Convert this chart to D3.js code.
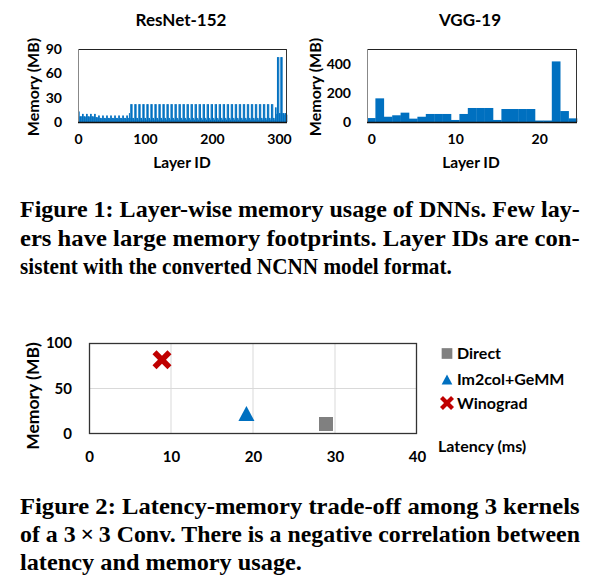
<!DOCTYPE html>
<html><head><meta charset="utf-8">
<script src="https://cdn.jsdelivr.net/npm/d3@7"></script>
<style>
body{margin:0;background:#fff}
svg text{font-family:Lato,"Open Sans",sans-serif;font-weight:bold;fill:#000}
svg text.cap{font-family:"Liberation Serif","DejaVu Serif",serif;font-weight:bold}
</style>
</head><body>
<svg id="c" width="597" height="577"></svg>
<script>
// ---------- DATA ----------
// ResNet-152: memory (MB) per NCNN layer ID (0..311)
const resnetMemory = [
  13,13,7,7,7,7,
  10,10,7,7,7,6, 10,10,7,7,7,6, 10,10,7,7,7,6,
  10,10,6,6,6,5,
  8,8,5,5,5,4, 8,8,5,5,5,4, 8,8,5,5,5,4, 8,8,5,5,5,4,
  8,8,5,5,5,4, 8,8,5,5,5,4, 8,8,5,5,5,4, 8,8,5,5,11,5,
  22,22,22,5,5,3, 22,22,22,5,5,3, 22,22,22,5,5,3, 22,22,22,5,5,3, 22,22,22,5,5,3, 22,22,22,5,5,3,
  22,22,22,5,5,3, 22,22,22,5,5,3, 22,22,22,5,5,3, 22,22,22,5,5,3, 22,22,22,5,5,3, 22,22,22,5,5,3,
  22,22,22,5,5,3, 22,22,22,5,5,3, 22,22,22,5,5,3, 22,22,22,5,5,3, 22,22,22,5,5,3, 22,22,22,5,5,3,
  22,22,22,5,5,3, 22,22,22,5,5,3, 22,22,22,5,5,3, 22,22,22,5,5,3, 22,22,22,5,5,3, 22,22,22,5,5,3,
  22,22,22,5,5,3, 22,22,22,5,5,3, 22,22,22,5,5,3, 22,22,22,5,5,3, 22,22,22,5,5,3, 22,22,22,5,5,3,
  22,22,22,5,5,3, 22,22,22,5,5,3, 22,22,22,5,5,3, 22,22,22,5,5,3, 22,22,22,5,5,3, 22,22,22,5,5,3,
  18,18,10,80,80,80,11,11,80,80,80,11,11,9,11,11,9,9
];
const resnetLayerMax = 312;
const resnetTicksX = [0,100,200,300];
const resnetTicksY = [0,30,60,90];
const resnetMemMax = 90;

// VGG-19: memory (MB) per NCNN layer ID (0..24)
const vggMemory = [27,162,36,46,64,23,36,55,55,55,14,55,96,96,96,14,89,89,89,89,10,10,415,75,25];
const vggTicksX = [0,10,20];
const vggTicksY = [0,200,400];
const vggMemMax = 500;

// Figure 2: kernels
const kernelNames = ["Direct","Im2col+GeMM","Winograd"];
const kernelLatency = [28.9,19.2,8.9];
const kernelMemory = [11,22.5,81.5];
const kernelColors = ["#808080","#0070C0","#C00000"];
const scatterTicksX = [0,10,20,30,40];
const scatterTicksY = [0,50,100];

const titles = ["ResNet-152","VGG-19"];
const caption1 = [
  "Figure 1: Layer-wise memory usage of DNNs. Few lay-",
  "ers have large memory footprints. Layer IDs are con-",
  "sistent with the converted NCNN model format."
];
const caption2 = [
  "Figure 2: Latency-memory trade-off among 3 kernels",
  "of a 3\u2009\u00d7\u20093 Conv. There is a negative correlation between",
  "latency and memory usage."
];

// ---------- DRAW ----------
const svg = d3.select("#c");
svg.append("rect").attr("width",597).attr("height",577).attr("fill","#fff");
const BAR = "#0070C0";

function styleAxis(g, size){
  g.select(".domain").remove();
  g.selectAll("text").attr("font-size",size).attr("fill","#000")
    .style("font-family","Lato,sans-serif").style("font-weight","bold");
}

function panel(cfg){
  const g = svg.append("g");
  const x = cfg.x, y = cfg.y;
  const [x0,x1] = x.range(), [y0,y1] = y.range();
  g.selectAll("rect.bar").data(cfg.values).join("rect").attr("class","bar")
    .attr("x",(d,i)=>x(cfg.start(i)))
    .attr("width",(d,i)=>x(cfg.start(i)+1)-x(cfg.start(i))+cfg.overlap)
    .attr("y",d=>y(d)).attr("height",d=>y(0)-y(d))
    .attr("fill",BAR);
  // frame
  g.append("line").attr("x1",x0).attr("x2",x1).attr("y1",y1+0.5).attr("y2",y1+0.5).attr("stroke","#222");
  g.append("line").attr("x1",x1-0.5).attr("x2",x1-0.5).attr("y1",y1).attr("y2",y0).attr("stroke","#333");
  g.append("line").attr("x1",x0+0.5).attr("x2",x0+0.5).attr("y1",y1).attr("y2",y0).attr("stroke","#888");
  g.append("line").attr("x1",x0).attr("x2",x1).attr("y1",y0+0.5).attr("y2",y0+0.5).attr("stroke","#111").attr("stroke-width",1.5);
  const ax = g.append("g").attr("transform",`translate(0,${y0})`)
    .call(d3.axisBottom(x).tickValues(cfg.ticksX).tickSize(0).tickPadding(12).tickFormat(d3.format("d")));
  styleAxis(ax,14);
  const ay = g.append("g").attr("transform",`translate(${x0},0)`)
    .call(d3.axisLeft(y).tickValues(cfg.ticksY).tickSize(0).tickPadding(16).tickFormat(d3.format("d")));
  styleAxis(ay,14);
  g.append("text").attr("x",cfg.cx).attr("y",20+0.36*17).attr("text-anchor","middle").attr("font-size",17).text(cfg.title);
  g.append("text").attr("x",cfg.cx+1).attr("y",162+0.36*15.5).attr("text-anchor","middle").attr("font-size",15.5).text("Layer ID");
  g.append("text").attr("transform",`translate(${cfg.ylx},87) rotate(-90)`).attr("text-anchor","middle")
    .attr("font-size",16).text("Memory (MB)");
}

panel({
  values: resnetMemory, start: i=>i, overlap: 0.35,
  x: d3.scaleLinear().domain([0,resnetLayerMax]).range([78,287]),
  y: d3.scaleLinear().domain([0,resnetMemMax]).range([122,49]),
  ticksX: resnetTicksX, ticksY: resnetTicksY, title: titles[0], cx: 181, ylx: 38.5
});
panel({
  values: vggMemory, start: i=>i-0.5, overlap: 0.3,
  x: d3.scaleLinear().domain([-0.5,vggMemory.length-0.5]).range([367,577]),
  y: d3.scaleLinear().domain([0,vggMemMax]).range([122,49]),
  ticksX: vggTicksX, ticksY: vggTicksY, title: titles[1], cx: 470, ylx: 320.5
});

// ---------- Figure 2 scatter ----------
const sx = d3.scaleLinear().domain([0,40]).range([89,417]);
const sy = d3.scaleLinear().domain([0,100]).range([434,343]);
const f2 = svg.append("g");
f2.selectAll("line.gx").data(scatterTicksX.slice(1,-1)).join("line").attr("class","gx")
  .attr("x1",d=>sx(d)).attr("x2",d=>sx(d)).attr("y1",sy(0)).attr("y2",sy(100)).attr("stroke","#D9D9D9");
f2.selectAll("line.gy").data(scatterTicksY.slice(1,-1)).join("line").attr("class","gy")
  .attr("y1",d=>sy(d)).attr("y2",d=>sy(d)).attr("x1",sx(0)).attr("x2",sx(40)).attr("stroke","#D9D9D9");
f2.append("rect").attr("x",sx(0)+0.5).attr("y",sy(100)+0.5).attr("width",sx(40)-sx(0)-1).attr("height",sy(0)-sy(100)-1)
  .attr("fill","none").attr("stroke","#333").attr("stroke-width",1.3);
const fx = f2.append("g").attr("transform",`translate(0,${sy(0)})`)
  .call(d3.axisBottom(sx).tickValues(scatterTicksX).tickSize(0).tickPadding(17.5));
styleAxis(fx,15);
const fy = f2.append("g").attr("transform",`translate(${sx(0)},0)`)
  .call(d3.axisLeft(sy).tickValues(scatterTicksY).tickSize(0).tickPadding(17));
styleAxis(fy,15);

// marker shapes
const symSquare = {draw(ctx,size){const s=Math.sqrt(size)/2;ctx.rect(-s,-s,2*s,2*s);}};
const symTri = {draw(ctx,size){const w=Math.sqrt(size)*1.07/2,h=Math.sqrt(size)/2;ctx.moveTo(0,-h);ctx.lineTo(w,h);ctx.lineTo(-w,h);ctx.closePath();}};
const symX = {draw(ctx,size){
  const e=Math.sqrt(size)/2; // half bbox
  const t=e*0.3, r=e*Math.SQRT2 - t;
  const pts=[[t,-r],[t,-t],[r,-t],[r,t],[t,t],[t,r],[-t,r],[-t,t],[-r,t],[-r,-t],[-t,-t],[-t,-r]];
  const c=Math.SQRT1_2;
  pts.forEach((p,i)=>{const X=(p[0]-p[1])*c, Y=(p[0]+p[1])*c; i?ctx.lineTo(X,Y):ctx.moveTo(X,Y);});
  ctx.closePath();}};
const shapes = [symSquare, symTri, symX];
const markerSize = [14,15,19];
const legendSize = [10.7,10,14];

f2.selectAll("path.pt").data(kernelNames).join("path").attr("class","pt")
  .attr("transform",(d,i)=>`translate(${sx(kernelLatency[i])},${sy(kernelMemory[i])})`)
  .attr("d",(d,i)=>d3.symbol(shapes[i], markerSize[i]*markerSize[i])())
  .attr("fill",(d,i)=>kernelColors[i]);

const legY = [353.5,379.5,403];
const lg = f2.selectAll("g.leg").data(kernelNames).join("g").attr("class","leg")
  .attr("transform",(d,i)=>`translate(447,${legY[i]})`);
lg.append("path").attr("d",(d,i)=>d3.symbol(shapes[i], legendSize[i]*legendSize[i])()).attr("fill",(d,i)=>kernelColors[i]);
lg.append("text").attr("x",10).attr("y",0.36*16).attr("font-size",16).text(d=>d);

f2.append("text").attr("x",438).attr("y",446+0.36*16).attr("font-size",16).text("Latency (ms)");
f2.append("text").attr("transform",`translate(38.5,396) rotate(-90)`).attr("text-anchor","middle")
  .attr("font-size",17.5).text("Memory (MB)");

// ---------- captions ----------
function caption(lines, baselines, widths){
  svg.selectAll(null).data(lines).join("text").attr("class","cap")
    .attr("x",20).attr("y",(d,i)=>baselines[i]).attr("font-size",22.5)
    .text(d=>d)
    .each(function(d,i){
      const nat = this.getComputedTextLength();
      const target = widths[i];
      // stretch glyphs mildly toward the target, then fill the remainder with word spacing
      const spaces = (d.match(/ /g)||[]).length;
      const sel = d3.select(this);
      const k = Math.max(0.94, Math.min(1.1, target/nat));
      sel.attr("transform",`translate(20,0) scale(${k},1) translate(-20,0)`);
      const natK = nat*k;
      if(spaces>0 && target>natK) sel.style("word-spacing",((target-natK)/spaces/k)+"px");
    });
}
caption(caption1,[217,246,274],[560,560,432]);
caption(caption2,[514,542,570],[560,560,282]);
</script>
</body></html>
